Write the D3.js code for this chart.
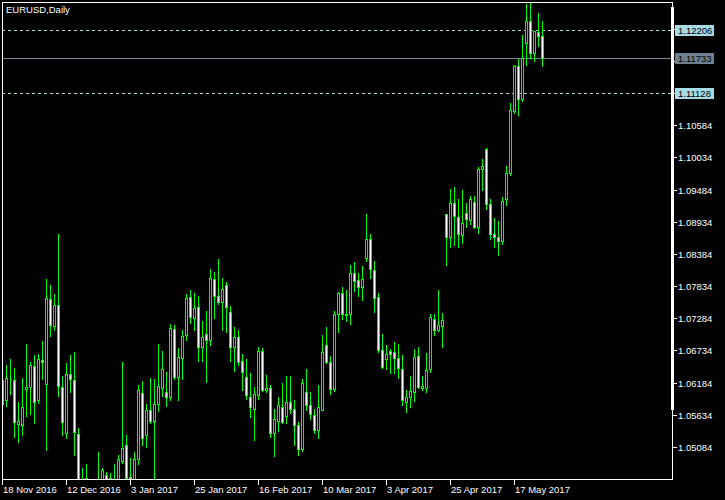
<!DOCTYPE html>
<html><head><meta charset="utf-8">
<script src="https://cdn.jsdelivr.net/npm/d3@7"></script>
<style>
html,body{margin:0;padding:0;background:#000;}
svg{display:block;}
text{font-family:"Liberation Sans",Arial,sans-serif;font-size:9.5px;fill:#fff;}
</style></head><body>
<svg id="chart" width="725" height="500"></svg>
<script>
// ---------- data ----------
const symbolTitle = "EURUSD,Daily";
const dateLabels = ["18 Nov 2016","12 Dec 2016","3 Jan 2017","25 Jan 2017","16 Feb 2017","10 Mar 2017","3 Apr 2017","25 Apr 2017","17 May 2017"];
const dateLabelIndex = [0,16,32,48,64,80,96,112,128];
const open = [
1.0581,1.0589,1.0625,1.0622,1.0547,1.0545,1.0607,1.0611,1.0647,1.0589,
1.0657,1.0616,1.0762,1.0715,1.0751,1.0611,1.0532,1.0633,1.0623,1.0531,
1.0410,1.0455,1.0400,1.0384,1.0425,1.0440,1.0460,1.0456,1.0452,1.0412,
1.0485,1.0511,1.0457,1.0402,1.0487,1.0601,1.0528,1.0572,1.0552,1.0582,
1.0609,1.0602,1.0594,1.0710,1.0628,1.0661,1.0700,1.0765,1.0729,1.0748,
1.0679,1.0702,1.0691,1.0796,1.0767,1.0756,1.0786,1.0739,1.0679,1.0697,
1.0655,1.0628,1.0594,1.0573,1.0597,1.0672,1.0605,1.0609,1.0533,1.0552,
1.0577,1.0561,1.0585,1.0573,1.0546,1.0504,1.0602,1.0580,1.0563,1.0538,
1.0572,1.0683,1.0654,1.0608,1.0736,1.0772,1.0736,1.0736,1.0806,1.0793,
1.0781,1.0831,1.0864,1.0811,1.0765,1.0674,1.0658,1.0672,1.0671,1.0661,
1.0642,1.0585,1.0593,1.0602,1.0664,1.0609,1.0609,1.0641,1.0727,1.0708,
1.0715,1.0906,1.0868,1.0925,1.0902,1.0871,1.0909,1.0896,1.0927,1.0884,
1.0983,1.1017,1.0924,1.0873,1.0868,1.0861,1.0932,1.0976,1.1082,1.1159,
1.1104,1.1199,1.1237,1.1182,1.1218,1.1211];
const high = [
1.0627,1.0649,1.0658,1.0644,1.0586,1.0627,1.0685,1.0654,1.0666,1.0668,
1.0690,1.0796,1.0786,1.0769,1.0873,1.0630,1.0651,1.0666,1.0670,1.0540,
1.0473,1.0480,1.0425,1.0445,1.0499,1.0472,1.0465,1.0463,1.0480,1.0494,
1.0653,1.0528,1.0490,1.0500,1.0615,1.0621,1.0582,1.0627,1.0624,1.0685,
1.0673,1.0636,1.0719,1.0716,1.0677,1.0709,1.0769,1.0776,1.0771,1.0766,
1.0724,1.0740,1.0812,1.0808,1.0829,1.0798,1.0791,1.0750,1.0714,1.0709,
1.0668,1.0658,1.0634,1.0610,1.0679,1.0677,1.0632,1.0615,1.0574,1.0594,
1.0618,1.0630,1.0630,1.0589,1.0551,1.0624,1.0641,1.0603,1.0573,1.0615,
1.0699,1.0714,1.0663,1.0740,1.0774,1.0782,1.0777,1.0820,1.0825,1.0805,
1.0818,1.0906,1.0873,1.0826,1.0771,1.0702,1.0682,1.0676,1.0688,1.0684,
1.0666,1.0606,1.0630,1.0675,1.0679,1.0630,1.0669,1.0736,1.0736,1.0777,
1.0737,1.0907,1.0950,1.0952,1.0933,1.0948,1.0925,1.0937,1.0937,1.0987,
1.1000,1.1019,1.0933,1.0899,1.0894,1.0935,1.0989,1.1097,1.1162,1.1171,
1.1212,1.1265,1.1268,1.1220,1.1251,1.1236];
const low = [
1.0573,1.0578,1.0598,1.0525,1.0516,1.0529,1.0562,1.0564,1.0550,1.0583,
1.0624,1.0503,1.0698,1.0708,1.0595,1.0529,1.0523,1.0602,1.0494,1.0367,
1.0395,1.0390,1.0352,1.0375,1.0420,1.0428,1.0440,1.0440,1.0373,1.0405,
1.0481,1.0450,1.0340,1.0390,1.0480,1.0512,1.0509,1.0549,1.0455,1.0569,
1.0595,1.0578,1.0588,1.0624,1.0588,1.0624,1.0692,1.0720,1.0709,1.0656,
1.0656,1.0619,1.0683,1.0728,1.0753,1.0709,1.0704,1.0655,1.0639,1.0649,
1.0606,1.0591,1.0559,1.0520,1.0591,1.0604,1.0602,1.0525,1.0492,1.0536,
1.0550,1.0550,1.0567,1.0512,1.0494,1.0501,1.0572,1.0556,1.0533,1.0523,
1.0571,1.0652,1.0598,1.0604,1.0704,1.0727,1.0724,1.0718,1.0775,1.0767,
1.0759,1.0826,1.0798,1.0739,1.0670,1.0644,1.0641,1.0634,1.0635,1.0627,
1.0580,1.0568,1.0577,1.0587,1.0609,1.0605,1.0602,1.0636,1.0699,1.0706,
1.0680,1.0820,1.0850,1.0854,1.0851,1.0857,1.0884,1.0890,1.0882,1.0874,
1.0947,1.0915,1.0863,1.0851,1.0837,1.0855,1.0922,1.0974,1.1080,1.1076,
1.1100,1.1162,1.1174,1.1168,1.1193,1.1159];
const close = [
1.0622,1.0626,1.0624,1.0551,1.0552,1.0577,1.0611,1.0649,1.0586,1.0659,
1.0653,1.0763,1.0717,1.0751,1.0612,1.0551,1.0633,1.0625,1.0534,1.0412,
1.0450,1.0402,1.0384,1.0425,1.0438,1.0469,1.0450,1.0453,1.0412,1.0488,
1.0507,1.0456,1.0402,1.0487,1.0606,1.0523,1.0572,1.0552,1.0582,1.0612,
1.0642,1.0594,1.0712,1.0628,1.0662,1.0698,1.0763,1.0731,1.0746,1.0680,
1.0697,1.0691,1.0797,1.0766,1.0756,1.0779,1.0748,1.0680,1.0697,1.0653,
1.0636,1.0597,1.0576,1.0599,1.0673,1.0605,1.0609,1.0533,1.0556,1.0580,
1.0551,1.0585,1.0574,1.0545,1.0505,1.0617,1.0580,1.0565,1.0538,1.0576,
1.0671,1.0653,1.0608,1.0736,1.0772,1.0736,1.0734,1.0806,1.0792,1.0781,
1.0796,1.0864,1.0813,1.0763,1.0674,1.0645,1.0667,1.0668,1.0661,1.0644,
1.0589,1.0594,1.0604,1.0662,1.0611,1.0612,1.0640,1.0731,1.0708,1.0716,
1.0726,1.0868,1.0925,1.0903,1.0873,1.0892,1.0898,1.0933,1.0884,1.0984,
1.0988,1.0924,1.0873,1.0867,1.0860,1.0928,1.0976,1.1084,1.1159,1.1104,
1.1174,1.1237,1.1182,1.1219,1.1211,1.1173];
const priceTicks = [1.05084,1.05634,1.06184,1.06734,1.07284,1.07834,1.08384,1.08934,1.09484,1.10034,1.10584];
const hiddenTicks = [1.11134,1.11684,1.12234];
const levelLines = [1.12206, 1.11128];
const currentPrice = 1.11733;

// ---------- drawing ----------
const W = 725, H = 500;
const plotL = 2, plotR = 672, plotT = 2, plotB = 479;
const svg = d3.select("#chart");
svg.append("rect").attr("width", W).attr("height", H).attr("fill", "#000");

const x = d3.scaleLinear().domain([0, 135]).range([2, 542]);
const y = d3.scaleLinear().domain([1.05084, 1.10584]).range([446.9, 125.2]);
const px = v => Math.round(x(v)) + 0.5;
const py = v => Math.round(y(v)) + 0.5;

svg.append("defs").append("clipPath").attr("id", "clip")
  .append("rect").attr("x", plotL + 1).attr("y", plotT + 1)
  .attr("width", plotR - plotL - 1).attr("height", plotB - plotT - 1);

const lines = svg.append("g").attr("clip-path", "url(#clip)").attr("shape-rendering", "crispEdges");
lines.selectAll("line.lvl").data(levelLines).join("line")
  .attr("x1", plotL).attr("x2", plotR).attr("y1", d => py(d)).attr("y2", d => py(d))
  .attr("stroke", "#a6dae6").attr("stroke-dasharray", "3,3");
lines.append("line").attr("x1", plotL).attr("x2", plotR)
  .attr("y1", py(currentPrice)).attr("y2", py(currentPrice)).attr("stroke", "#778899");

const data = open.map((o, i) => ({ i, o, h: high[i], l: low[i], c: close[i] }));
const g = svg.append("g").attr("clip-path", "url(#clip)").attr("shape-rendering", "crispEdges");
g.selectAll("line.wick").data(data).join("line").attr("class", "wick")
  .attr("x1", d => px(d.i)).attr("x2", d => px(d.i))
  .attr("y1", d => Math.round(y(d.h))).attr("y2", d => Math.round(y(d.l)) + 1)
  .attr("stroke", "#00ff00");
g.selectAll("path.body").data(data).join("path").attr("class", "body")
  .attr("d", d => {
    const X = px(d.i);
    const y0 = py(Math.max(d.o, d.c)), y1 = py(Math.min(d.o, d.c));
    return `M${X - 1},${y0}H${X + 1}V${y1}H${X - 1}Z`;
  })
  .attr("fill", d => d.c < d.o ? "#fff" : "#000")
  .attr("stroke", "#00ff00");

// frame
const frame = svg.append("g").attr("shape-rendering", "crispEdges").attr("stroke", "#fff");
frame.append("line").attr("x1", plotL).attr("x2", plotR + 1).attr("y1", plotT + 0.5).attr("y2", plotT + 0.5);
frame.append("line").attr("x1", plotL + 0.5).attr("x2", plotL + 0.5).attr("y1", plotT).attr("y2", plotB + 1);
frame.append("line").attr("x1", plotL).attr("x2", plotR + 1).attr("y1", plotB + 0.5).attr("y2", plotB + 0.5);
frame.append("line").attr("x1", plotR + 0.5).attr("x2", plotR + 0.5).attr("y1", plotT).attr("y2", plotB + 1);
svg.append("rect").attr("x", plotR - 1).attr("y", 7).attr("width", 3).attr("height", 403).attr("fill", "#fff");

// y axis
const yAxis = d3.axisRight(y).tickValues(priceTicks).tickFormat(d3.format(".5f")).tickSize(4).tickPadding(2);
const ya = svg.append("g").attr("transform", `translate(${plotR + 1},0.5)`).call(yAxis);
ya.select(".domain").remove();
ya.selectAll(".tick").attr("transform", d => `translate(0,${Math.round(y(d))})`);
ya.selectAll(".tick line").attr("stroke", "#fff").attr("shape-rendering", "crispEdges");
ya.selectAll(".tick text").attr("fill", "#fff").attr("font-family", "Liberation Sans, Arial, sans-serif").attr("font-size", "9.5px").attr("x", 5).attr("dy", "0.34em");
// tick marks behind the price tags
svg.append("g").attr("shape-rendering", "crispEdges").selectAll("line").data(hiddenTicks).join("line")
  .attr("x1", plotR + 1).attr("x2", plotR + 5).attr("y1", d => py(d)).attr("y2", d => py(d)).attr("stroke", "#fff");

// price labels
const tags = [
  { v: levelLines[0], bg: "#a6dae6" },
  { v: currentPrice, bg: "#6f8090" },
  { v: levelLines[1], bg: "#a6dae6" }
];
const tg = svg.append("g");
tags.forEach(t => {
  const cy = Math.round(y(t.v));
  tg.append("rect").attr("x", 675).attr("y", cy - 5).attr("width", 39).attr("height", 11).attr("fill", t.bg);
  tg.append("text").attr("x", 678).attr("y", cy + 4).style("fill", "#000").text(d3.format(".5f")(t.v));
});

// x axis
const xa = svg.append("g").attr("shape-rendering", "crispEdges");
xa.selectAll("line").data(dateLabelIndex).join("line")
  .attr("x1", d => px(d)).attr("x2", d => px(d)).attr("y1", plotB + 1).attr("y2", plotB + 6).attr("stroke", "#fff");
svg.append("g").selectAll("text").data(dateLabelIndex).join("text")
  .attr("x", d => px(d) + 0.5).attr("y", 493).text((d, i) => dateLabels[i]);

// title
svg.append("text").attr("x", 6).attr("y", 13).text(symbolTitle);
</script>
</body></html>
